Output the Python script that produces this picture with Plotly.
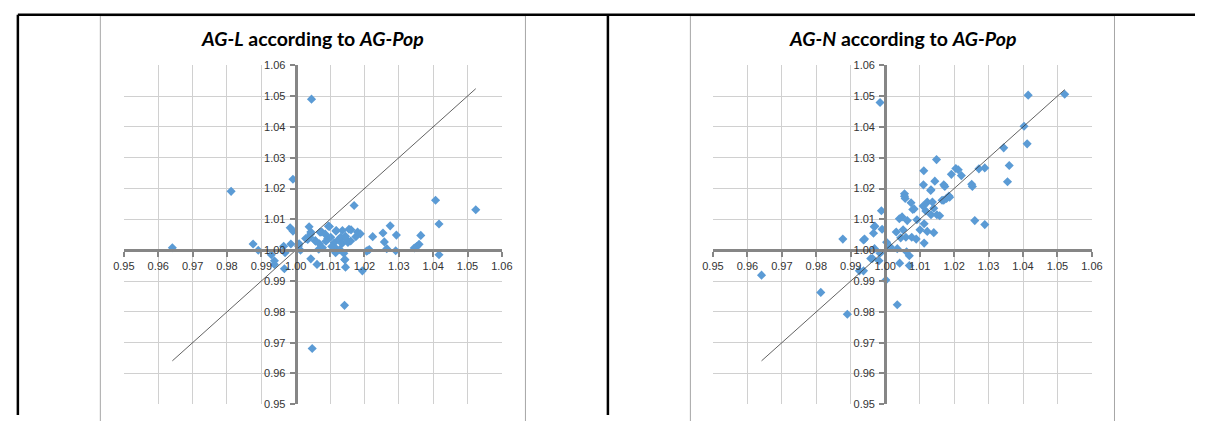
import plotly.graph_objects as go

# ---------------- data ----------------
# Left panel: AG-L (y) against AG-Pop (x)
pop_L = [0.9641, 0.9812, 0.9876, 0.9891, 0.9929, 0.9938, 0.9938, 0.9967, 0.9969, 0.9965,
         0.9986, 0.9984, 0.9992, 0.9992, 1.0046, 1.0048, 1.0142, 1.0524, 1.0407, 1.0417,
         1.0417, 1.0170, 1.0275, 1.0254, 1.0293, 1.0224, 1.0258, 1.0265, 1.0291, 1.0364,
         1.0359, 1.0352, 1.0345, 1.0209, 1.0214, 1.0194, 1.0143, 1.0145, 1.0062, 1.0044,
         1.0039, 1.0044, 1.0098, 1.0118, 1.0155, 1.0161, 1.0180, 1.0188, 1.0175, 1.0010,
         1.0008, 1.0035, 1.0041, 1.0058, 1.0076, 1.0069, 1.0067, 1.0078, 1.0088, 1.0093,
         1.0102, 1.0112, 1.0115, 1.0118, 1.0125, 1.0131, 1.0135, 1.0148, 1.0152, 1.0145,
         1.0160, 1.0105, 1.0128, 1.0140, 1.0043, 1.0029, 1.0057, 1.0071, 1.0086, 1.0095,
         1.0117, 1.0136, 1.0143, 1.0116, 1.0014, 1.0206]
ag_L = [1.0008, 1.0191, 1.0020, 1.0000, 0.9985, 0.9966, 0.9954, 0.9940, 0.9992, 1.0013,
        1.0020, 1.0073, 1.0062, 1.0230, 1.0490, 0.9681, 0.9821, 1.0131, 1.0162, 1.0085,
        0.9985, 1.0145, 1.0079, 1.0056, 1.0049, 1.0044, 1.0027, 1.0005, 0.9998, 1.0048,
        1.0019, 1.0012, 1.0007, 0.9998, 1.0002, 0.9933, 0.9969, 0.9945, 0.9954, 0.9972,
        1.0076, 1.0059, 1.0077, 1.0064, 1.0068, 1.0066, 1.0059, 1.0053, 1.0044, 1.0021,
        1.0014, 1.0035, 1.0042, 1.0029, 1.0059, 1.0021, 1.0003, 1.0008, 1.0029, 1.0038,
        1.0042, 1.0024, 1.0008, 0.9995, 1.0035, 1.0042, 1.0022, 1.0035, 1.0025, 1.0045,
        1.0030, 1.0012, 1.0002, 0.9990, 1.0052, 1.0038, 1.0031, 1.0058, 1.0052, 1.0078,
        1.0062, 1.0064, 0.9970, 0.9992, 1.0000, 0.9997]

# Right panel: AG-N (y) against AG-Pop (x)
pop_N = [0.9641, 0.9813, 0.9877, 0.9890, 0.9925, 0.9937, 0.9937, 0.9958, 0.9966, 0.9970,
         0.9969, 0.9982, 0.9985, 0.9985, 0.9989, 0.9991, 1.0002, 1.0004, 1.0015, 1.0032,
         1.0035, 1.0042, 1.0041, 1.0049, 1.0056, 1.0056, 1.0058, 1.0075, 1.0080, 1.0084,
         1.0052, 1.0045, 1.0070, 1.0070, 1.0112, 1.0111, 1.0149, 1.0144, 1.0133, 1.0173,
         1.0170, 1.0192, 1.0205, 1.0212, 1.0221, 1.0185, 1.0178, 1.0170, 1.0253, 1.0251,
         1.0260, 1.0272, 1.0289, 1.0289, 1.0113, 1.0141, 1.0344, 1.0360, 1.0355, 1.0403,
         1.0412, 1.0415, 1.0521, 0.9940, 0.9968, 1.0035, 1.0064, 1.0060, 1.0077, 1.0090,
         1.0092, 1.0101, 1.0113, 1.0118, 1.0110, 1.0122, 1.0132, 1.0137, 1.0141, 1.0133,
         1.0150, 1.0158, 1.0122, 1.0165, 1.0187, 0.9963, 1.0062]
ag_N = [0.9919, 0.9863, 1.0036, 0.9792, 0.9933, 0.9933, 1.0033, 0.9973, 1.0055, 1.0078,
        1.0005, 0.9966, 0.9990, 1.0479, 1.0128, 1.0068, 0.9903, 1.0026, 1.0010, 1.0059,
        0.9823, 0.9958, 1.0102, 1.0108, 1.0183, 1.0175, 1.0168, 1.0154, 1.0132, 1.0134,
        1.0066, 1.0040, 0.9950, 0.9982, 1.0258, 1.0212, 1.0294, 1.0224, 1.0196, 1.0207,
        1.0212, 1.0246, 1.0265, 1.0261, 1.0242, 1.0176, 1.0168, 1.0162, 1.0207, 1.0214,
        1.0096, 1.0264, 1.0267, 1.0083, 1.0023, 1.0057, 1.0332, 1.0275, 1.0222, 1.0402,
        1.0345, 1.0503, 1.0506, 1.0036, 1.0076, 1.0005, 1.0096, 1.0042, 1.0042, 1.0036,
        1.0099, 1.0066, 1.0086, 1.0127, 1.0143, 1.0156, 1.0194, 1.0156, 1.0136, 1.0115,
        1.0115, 1.0112, 1.0061, 1.0162, 1.0172, 0.9973, 0.9995]

titles = ["<b><i>AG-L</i> according to <i>AG-Pop</i></b>",
          "<b><i>AG-N</i> according to <i>AG-Pop</i></b>"]
axis_min, axis_max, axis_step, cross_at = 0.95, 1.06, 0.01, 1.00

# ---------------- layout geometry (pixels of a 1206 x 421 page) ----------------
W, H = 1206, 421
def px(x):
    return x / W
def py(y):
    return 1 - y / H

plot_x = [(115, 500), (715, 1101)]
plot_top, plot_bottom = 61, 410
chart_area = [(91, 524), (692, 1124)]

BLUE = "#5B9BD5"
AXIS = "#868686"
GRID = "#D0D0D0"

fig = go.Figure()

panels = [(pop_L, ag_L), (pop_N, ag_N)]
frac = (cross_at - axis_min) / (axis_max - axis_min)
ydom = [py(plot_bottom), py(plot_top)]

for i, (xs, ys) in enumerate(panels):
    n = "" if i == 0 else str(i + 1)
    xa, ya = "x" + n, "y" + n
    fig.add_trace(go.Scatter(x=xs, y=ys, mode="markers", xaxis=xa, yaxis=ya,
                             marker=dict(symbol="diamond", size=7, color=BLUE,
                                         line=dict(width=0)),
                             showlegend=False, hoverinfo="x+y"))
    lo, hi = min(xs), max(xs)
    fig.add_trace(go.Scatter(x=[lo, hi], y=[lo, hi], mode="lines", xaxis=xa, yaxis=ya,
                             line=dict(color="#3a3a3a", width=0.8),
                             showlegend=False, hoverinfo="skip"))
    xdom = [px(plot_x[i][0]), px(plot_x[i][1])]
    common = dict(range=[axis_min - 1e-6, axis_max + 1e-6], tick0=axis_min, dtick=axis_step,
                  tickformat=".2f", showgrid=True, gridcolor=GRID, gridwidth=1,
                  zeroline=False, showline=True, linecolor=AXIS, linewidth=3,
                  ticks="outside", ticklen=5, tickwidth=2, tickcolor=AXIS,
                  tickfont=dict(family="Liberation Sans", size=11, color="#333333"),
                  anchor="free", fixedrange=True)
    fig.update_layout(**{
        "xaxis" + n: dict(domain=xdom, position=ydom[0] + frac * (ydom[1] - ydom[0]), **common),
        "yaxis" + n: dict(domain=ydom, position=xdom[0] + frac * (xdom[1] - xdom[0]),
                          ticklabelstandoff=2, **common),
    })
    # chart title
    cx = (chart_area[i][0] + chart_area[i][1]) / 2
    fig.add_annotation(x=px(cx), y=py(33), xref="paper", yref="paper", text=titles[i],
                       showarrow=False, xanchor="center", yanchor="middle",
                       font=dict(family="Lato", size=19.5, color="#000000"))
    # chart area border
    fig.add_shape(type="rect", xref="paper", yref="paper",
                  x0=px(chart_area[i][0]), x1=px(chart_area[i][1]), y0=py(430), y1=py(10),
                  line=dict(color="#A6A6A6", width=1), layer="below")

# table borders
for (x0, y0, x1, y1) in [(7, 9, 1206, 9), (7, 9, 7, 421), (608, 9, 608, 421)]:
    fig.add_shape(type="line", xref="paper", yref="paper",
                  x0=px(x0), y0=py(y0), x1=px(x1), y1=py(y1),
                  line=dict(color="#000000", width=2.5))

fig.update_layout(width=W, height=H, margin=dict(l=0, r=0, t=0, b=0),
                  paper_bgcolor="white", plot_bgcolor="white", showlegend=False)

# the page's default 8px body margin would offset the figure; remove it
fig.write_html("out.html", config={"displayModeBar": False},
               post_script="document.body.style.margin='0px';document.body.style.overflow='hidden';")
